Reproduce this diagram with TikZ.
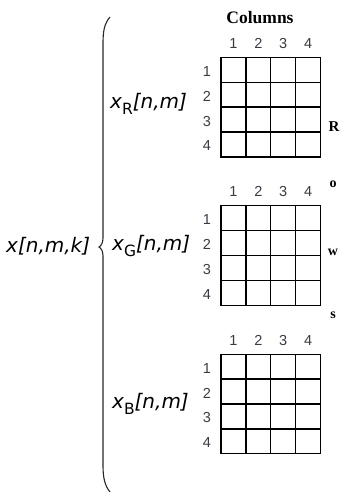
\documentclass[tikz,border=0pt]{standalone}
\usepackage{fontspec}
\setmainfont{Liberation Serif}
\newfontfamily\labfont{DejaVu Sans}
\newfontfamily\numfont{Liberation Sans}
\newcommand\mysub[1]{\raisebox{-5.5pt}{\fontsize{15.5}{15}\selectfont\upshape #1}}
\definecolor{numgray}{HTML}{3A3A44}
\tikzset{
  lab/.style={font=\labfont\itshape\fontsize{20}{22}\selectfont, inner sep=0pt, anchor=west},
  num/.style={font=\numfont\fontsize{14.5}{14}\selectfont, text=numgray, inner sep=0pt},
  side/.style={font=\bfseries\fontsize{14}{14}\selectfont, inner sep=0pt},
  gridline/.style={line width=1.3pt, black},
  bracestyle/.style={line width=1.1pt, black!85}
}
\begin{document}
\begin{tikzpicture}[x=1pt,y=-1pt]
\useasboundingbox (0,0) rectangle (345,492);
% title
\node[font=\bfseries\fontsize{17.5}{18}\selectfont, inner sep=0pt] (columns) at (260,18) {Columns};
% grids
\foreach \g/\top in {R/57.3,G/205.8,B/354.2}{
  \draw[gridline] (221,\top) rectangle ++(99.6,99.6);
  \foreach \i in {1,2,3}{
    \draw[gridline] (221+\i*24.9,\top) -- ++(0,99.6);
    \draw[gridline] (221,\top+\i*24.9) -- ++(99.6,0);
  }
  \foreach \i in {1,2,3,4}{
    \node[num] (c\g\i) at (221+\i*24.9-12.45,\top-14) {\i};
    \node[num] (r\g\i) at (207,\top+\i*24.9-12.45+1.5) {\i};
  }
}
% side letters
\node[side, font=\bfseries\fontsize{15}{15}\selectfont] (sR) at (334,127) {R};
\node[side] (so) at (333,184) {o};
\node[side] (sw) at (333,252) {w};
\node[side] (ss) at (333,315) {s};
% labels
\node[lab] (xR) at (110,104) {x\mysub{R}[n,m]};
\node[lab] (xG) at (112,246) {x\mysub{G}[n,m]};
\node[lab] (xB) at (112,404) {x\mysub{B}[n,m]};
\node[lab] (xall) at (6,246) {x[n,m,k]};
% brace
\draw[bracestyle] (110,17) .. controls (104,24) and (103,32) .. (103,44)
  -- (103,238) .. controls (103,243) and (101,246) .. (99,247)
  .. controls (101,248) and (103,251) .. (103,256)
  -- (103,466) .. controls (103,478) and (105,486) .. (110,492);
\end{tikzpicture}
\end{document}
